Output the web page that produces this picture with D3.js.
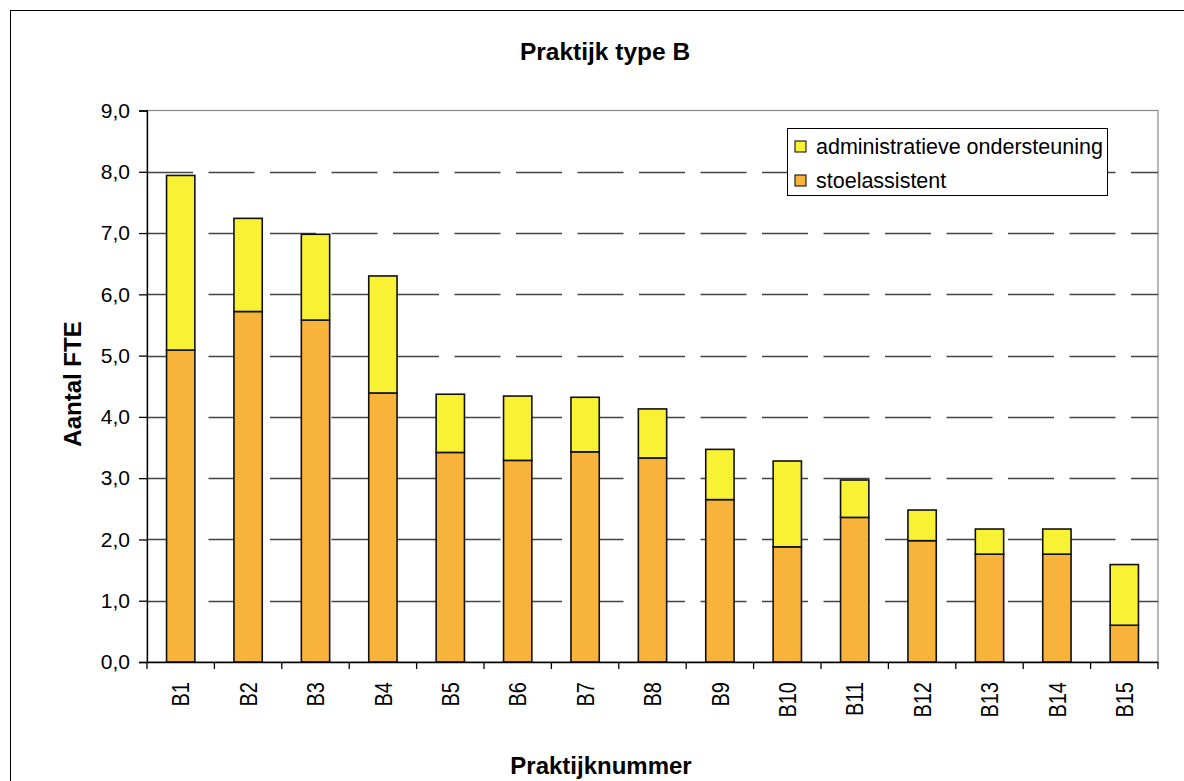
<!DOCTYPE html>
<html>
<head>
<meta charset="utf-8">
<script src="https://cdn.jsdelivr.net/npm/d3@7"></script>
<style>
  body { margin: 0; background: #fff; }
  svg { font-family: "Liberation Sans", Arial, sans-serif; }
</style>
</head>
<body>
<script>
// Praktijk type B - stacked bars
const categories = ["B1","B2","B3","B4","B5","B6","B7","B8","B9","B10","B11","B12","B13","B14","B15"];
const stoelassistent = [5.09, 5.72, 5.58, 4.39, 3.42, 3.29, 3.43, 3.33, 2.65, 1.88, 2.36, 1.98, 1.76, 1.76, 0.60];
const totaal = [7.94, 7.24, 6.98, 6.30, 4.37, 4.34, 4.32, 4.13, 3.47, 3.28, 2.97, 2.48, 2.17, 2.17, 1.59];
const administratief = totaal.map((t, i) => +(t - stoelassistent[i]).toFixed(2));
const yTicks = [0, 1, 2, 3, 4, 5, 6, 7, 8, 9];
const seriesNames = ["administratieve ondersteuning", "stoelassistent"];

const colors = { admin: "#f8f134", stoel: "#f8b43a" };
const W = 1184, H = 781;
const plotLeft = 147, plotRight = 1158, plotTop = 110.5, plotBottom = 662;

const svg = d3.select("body").append("svg")
  .attr("width", W).attr("height", H);

// outer chart border
svg.append("rect")
  .attr("x", 10.5).attr("y", 10.5)
  .attr("width", W + 20).attr("height", H + 20)
  .attr("fill", "none").attr("stroke", "#000").attr("stroke-width", 1);

const x = d3.scaleBand().domain(categories).range([plotLeft, plotRight])
  .paddingInner(0.58).paddingOuter(0.29);
const slot = d3.scaleBand().domain(categories).range([plotLeft, plotRight]);
const y = d3.scaleLinear().domain([0, 9]).range([plotBottom, plotTop]);

// plot area border (grey)
svg.append("rect")
  .attr("x", plotLeft).attr("y", y(9))
  .attr("width", plotRight - plotLeft).attr("height", y(0) - y(9))
  .attr("fill", "none").attr("stroke", "#888").attr("stroke-width", 1.2);

// dashed gridlines
svg.append("g").selectAll("line")
  .data(yTicks.filter(d => d > 0 && d < 9))
  .enter().append("line")
    .attr("x1", plotLeft).attr("x2", plotRight)
    .attr("y1", d => Math.round(y(d)) + 0.5).attr("y2", d => Math.round(y(d)) + 0.5)
    .attr("stroke", "#444").attr("stroke-width", 1.3)
    .attr("stroke-dasharray", "46,15.5");

// stacked bars
const stacked = d3.stack().keys(["stoel", "admin"])(
  categories.map((c, i) => ({ cat: c, stoel: stoelassistent[i], admin: administratief[i] }))
);
svg.append("g").selectAll("g")
  .data(stacked)
  .enter().append("g")
    .attr("fill", d => colors[d.key])
  .selectAll("rect")
  .data(d => d)
  .enter().append("rect")
    .attr("x", d => x(d.data.cat))
    .attr("y", d => y(d[1]))
    .attr("width", x.bandwidth())
    .attr("height", d => y(d[0]) - y(d[1]))
    .attr("stroke", "#111").attr("stroke-width", 1.6);

// y axis
const yAxis = svg.append("g")
  .attr("transform", `translate(${plotLeft},0)`)
  .call(d3.axisLeft(y).tickValues(yTicks).tickSize(8).tickPadding(9)
    .tickFormat(d => d3.format(".1f")(d).replace(".", ",")));
yAxis.select(".domain").attr("stroke", "#000").attr("stroke-width", 1.3);
yAxis.selectAll(".tick line").attr("stroke", "#000").attr("stroke-width", 1.3);
yAxis.selectAll("text").attr("font-size", 21).attr("fill", "#000")
  .attr("font-family", "Liberation Sans, Arial, sans-serif");

// x axis
const xAxis = svg.append("g")
  .attr("transform", `translate(0,${plotBottom})`)
  .call(d3.axisBottom(slot).tickSize(0).tickPadding(0));
xAxis.select(".domain").attr("stroke", "#000").attr("stroke-width", 1.3);
xAxis.selectAll(".tick text")
  .attr("font-size", 20).attr("fill", "#000")
  .attr("font-family", "Liberation Sans, Arial, sans-serif")
  .attr("text-anchor", "end")
  .attr("dy", "0.36em")
  .attr("transform", "translate(0,20) rotate(-90) scale(1,1.2)")
  .attr("y", 0).attr("x", 0);
// category boundary ticks
svg.append("g").selectAll("line")
  .data(categories.concat(["end"]))
  .enter().append("line")
    .attr("x1", (d, i) => plotLeft + i * slot.step()).attr("x2", (d, i) => plotLeft + i * slot.step())
    .attr("y1", plotBottom).attr("y2", plotBottom + 7)
    .attr("stroke", "#000").attr("stroke-width", 1.3);

// legend
const lg = svg.append("g");
lg.append("rect")
  .attr("x", 787.5).attr("y", 128.5).attr("width", 320).attr("height", 67)
  .attr("fill", "#fff").attr("stroke", "#000").attr("stroke-width", 1);
const legendColors = [colors.admin, colors.stoel];
seriesNames.forEach((name, i) => {
  lg.append("rect")
    .attr("x", 795).attr("y", 141 + i * 34).attr("width", 11).attr("height", 11)
    .attr("fill", legendColors[i]).attr("stroke", "#000").attr("stroke-width", 1);
  lg.append("text")
    .attr("x", 816).attr("y", 154 + i * 34)
    .attr("font-size", 21.5).text(name);
});

// titles
svg.append("text")
  .attr("x", 605).attr("y", 60).attr("text-anchor", "middle")
  .attr("font-size", 24.5).attr("font-weight", "bold").text("Praktijk type B");
svg.append("text")
  .attr("x", 601).attr("y", 774).attr("text-anchor", "middle")
  .attr("font-size", 24).attr("font-weight", "bold").text("Praktijknummer");
svg.append("text")
  .attr("transform", "translate(81,384) rotate(-90)")
  .attr("text-anchor", "middle")
  .attr("font-size", 24).attr("font-weight", "bold").text("Aantal FTE");
</script>
</body>
</html>
